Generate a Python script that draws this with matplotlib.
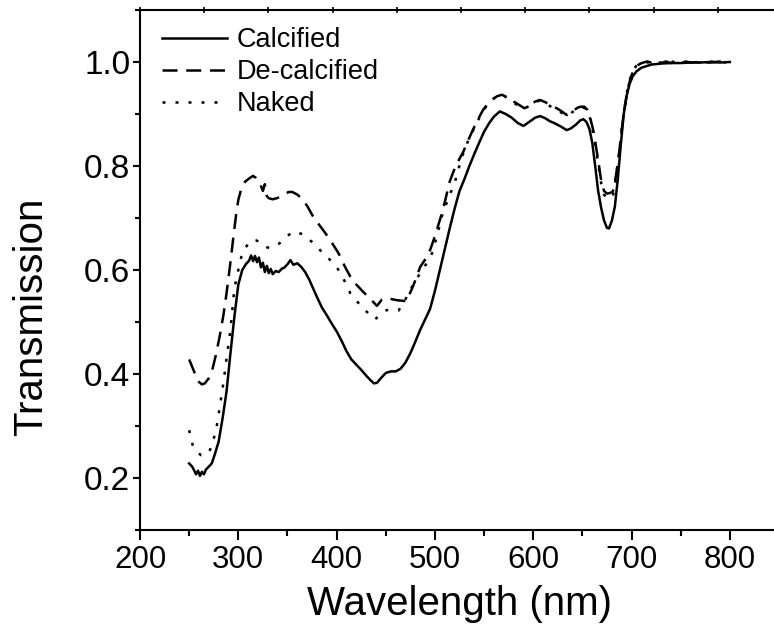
import numpy as np
import matplotlib
matplotlib.use('Agg')
import matplotlib.pyplot as plt
from matplotlib import font_manager

##### Datos #####
wl_calc = [250, 253, 255, 257, 259, 261, 263, 265, 267, 270, 273, 276, 280, 284, 288,
           292, 296, 300, 304, 308, 311, 313, 315, 317, 319, 321, 323, 325, 327, 329,
           331, 333, 335, 338, 341, 344, 347, 350, 353, 356, 360, 364, 368, 372, 376,
           380, 385, 390, 395, 400, 405, 410, 415, 420, 425, 430, 435, 438, 441, 445,
           450, 455, 460, 465, 470, 475, 480, 485, 490, 495, 500, 505, 510, 515, 520,
           525, 530, 535, 540, 545, 550, 555, 560, 566, 572, 578, 584, 590, 596, 602,
           607, 612, 617, 622, 628, 634, 638, 643, 648, 651, 654, 657, 660, 663, 666,
           669, 672, 675, 677, 680, 683, 686, 689, 692, 695, 698, 701, 705, 710, 715,
           720, 730, 740, 750, 760, 770, 780, 790, 800]
t_calc = [0.228, 0.222, 0.215, 0.207, 0.214, 0.204, 0.212, 0.207, 0.216, 0.222, 0.228,
          0.245, 0.270, 0.315, 0.366, 0.440, 0.510, 0.572, 0.600, 0.612, 0.618, 0.628,
          0.617, 0.627, 0.615, 0.624, 0.605, 0.614, 0.596, 0.608, 0.594, 0.602, 0.592,
          0.598, 0.596, 0.602, 0.605, 0.611, 0.619, 0.610, 0.613, 0.606, 0.596, 0.582,
          0.565, 0.548, 0.528, 0.513, 0.497, 0.482, 0.464, 0.444, 0.428, 0.418, 0.408,
          0.397, 0.387, 0.382, 0.383, 0.392, 0.402, 0.405, 0.405, 0.410, 0.422, 0.440,
          0.462, 0.485, 0.505, 0.525, 0.560, 0.600, 0.640, 0.680, 0.718, 0.752, 0.775,
          0.800, 0.823, 0.845, 0.866, 0.882, 0.895, 0.905, 0.900, 0.893, 0.883, 0.877,
          0.885, 0.893, 0.896, 0.892, 0.886, 0.882, 0.876, 0.869, 0.872, 0.879, 0.888,
          0.890, 0.885, 0.872, 0.845, 0.800, 0.752, 0.720, 0.695, 0.681, 0.680, 0.695,
          0.722, 0.775, 0.840, 0.900, 0.935, 0.958, 0.972, 0.982, 0.989, 0.992, 0.995,
          0.997, 0.998, 0.998, 0.999, 0.999, 1.000, 0.999, 1.000]

wl_decalc = [250, 255, 259, 263, 266, 270, 273, 277, 281, 285, 288, 292, 295, 298, 300,
             303, 307, 311, 315, 318, 322, 325, 327, 329, 331, 335, 339, 343, 347, 351,
             355, 360, 366, 371, 376, 383, 390, 396, 402, 408, 414, 420, 427, 434, 441,
             446, 451, 461, 471, 478, 485, 490, 495, 500, 508, 515, 521, 529, 537, 543,
             549, 554, 558, 563, 568, 574, 580, 586, 591, 597, 602, 607, 613, 618, 624,
             629, 634, 640, 645, 648, 652, 655, 658, 661, 664, 666, 669, 672, 675, 678,
             681, 684, 687, 690, 692, 695, 697, 700, 704, 708, 712, 716, 720, 725, 730,
             735, 740, 745, 750, 755, 760, 770, 780, 790, 800]
t_decalc = [0.428, 0.405, 0.386, 0.380, 0.382, 0.392, 0.404, 0.435, 0.472, 0.515, 0.555,
            0.615, 0.664, 0.710, 0.735, 0.756, 0.770, 0.776, 0.781, 0.777, 0.767, 0.752,
            0.765, 0.742, 0.738, 0.736, 0.738, 0.741, 0.745, 0.750, 0.750, 0.745, 0.735,
            0.720, 0.703, 0.685, 0.667, 0.650, 0.632, 0.608, 0.587, 0.572, 0.558, 0.545,
            0.531, 0.543, 0.546, 0.542, 0.540, 0.570, 0.606, 0.620, 0.638, 0.665, 0.715,
            0.770, 0.800, 0.828, 0.863, 0.887, 0.908, 0.920, 0.927, 0.934, 0.937, 0.932,
            0.924, 0.917, 0.911, 0.918, 0.924, 0.927, 0.922, 0.916, 0.911, 0.905, 0.898,
            0.905, 0.912, 0.914, 0.914, 0.908, 0.892, 0.869, 0.835, 0.812, 0.772, 0.752,
            0.747, 0.748, 0.751, 0.780, 0.820, 0.870, 0.900, 0.937, 0.955, 0.975, 0.990,
            0.996, 0.999, 1.001, 0.999, 1.002, 0.998, 1.001, 0.998, 1.000, 0.997, 1.001,
            0.999, 1.000, 0.999, 1.001, 1.000]

wl_naked = [250, 254, 258, 262, 266, 270, 274, 278, 281, 285, 288, 292, 296, 300, 303,
            307, 311, 314, 318, 322, 327, 332, 337, 341, 346, 351, 356, 361, 366, 371,
            375, 381, 386, 393, 400, 407, 414, 419, 424, 431, 439, 445, 451, 457, 463,
            469, 475, 481, 487, 492, 497, 502, 507, 514, 520, 527, 533, 540, 547, 553,
            558, 564, 568, 574, 580, 586, 591, 597, 602, 607, 613, 618, 624, 630, 635,
            640, 645, 650, 654, 657, 660, 663, 666, 669, 672, 675, 678, 681, 684, 687,
            690, 692, 695, 698, 701, 705, 710, 715, 720, 730, 740, 750, 760, 770, 780,
            790, 800]
t_naked = [0.292, 0.260, 0.250, 0.244, 0.245, 0.248, 0.268, 0.299, 0.335, 0.385, 0.430,
           0.485, 0.565, 0.600, 0.625, 0.642, 0.653, 0.658, 0.657, 0.654, 0.645, 0.642,
           0.646, 0.650, 0.658, 0.667, 0.674, 0.672, 0.668, 0.660, 0.654, 0.643, 0.632,
           0.620, 0.606, 0.583, 0.555, 0.543, 0.533, 0.519, 0.505, 0.515, 0.523, 0.522,
           0.522, 0.540, 0.562, 0.582, 0.600, 0.614, 0.632, 0.665, 0.703, 0.740, 0.767,
           0.815, 0.845, 0.873, 0.900, 0.917, 0.928, 0.935, 0.938, 0.930, 0.922, 0.914,
           0.910, 0.917, 0.923, 0.926, 0.920, 0.914, 0.908, 0.901, 0.897, 0.904, 0.910,
           0.913, 0.910, 0.898, 0.872, 0.842, 0.805, 0.768, 0.745, 0.738, 0.737, 0.742,
           0.775, 0.820, 0.870, 0.900, 0.940, 0.965, 0.982, 0.993, 0.998, 1.000, 0.997,
           0.999, 1.001, 0.998, 1.000, 0.999, 1.001, 0.999, 1.000]

labels = ['Calcified', 'De-calcified', 'Naked']
xticks = [200, 300, 400, 500, 600, 700, 800]
yticks = [0.2, 0.4, 0.6, 0.8, 1.0]

##### Fuentes #####
nombres = {f.name for f in font_manager.fontManager.ttflist}
if 'Liberation Sans Narrow' in nombres:
    fam_axis = ['Liberation Sans Narrow', 'Liberation Sans']
    sz_lab, sz_xt = 34, 24
else:
    fam_axis = ['Liberation Sans', 'DejaVu Sans']
    sz_lab, sz_xt = 29, 22.5
plt.rcParams['font.family'] = ['Liberation Sans', 'DejaVu Sans']

##### Grafica #####
fig = plt.figure(figsize=(7.74, 6.44), dpi=100)
ax = fig.add_axes([140/774, 114/644, 642/774, 520/644])

ax.plot(wl_calc, t_calc, color='k', lw=1.8, ls='-', label=labels[0])
ax.plot(wl_decalc, t_decalc, color='k', lw=1.8, ls=(0, (6, 3.5)), label=labels[1])
ax.plot(wl_naked, t_naked, color='k', lw=1.8, ls=(0, (1.2, 4)), label=labels[2])

ax.set_xlim(200, 853)
ax.set_ylim(0.1, 1.1)
ax.set_xticks(xticks)
ax.set_xticks(np.arange(250, 851, 100), minor=True)
ax.set_yticks(yticks)
ax.set_yticks(np.arange(0.1, 1.11, 0.2), minor=True)
ax.set_yticklabels(['%.1f' % v for v in yticks], fontsize=24)
ax.set_xticklabels([str(v) for v in xticks], fontsize=sz_xt, family=fam_axis)

ax.spines['right'].set_visible(False)
for s in ['left', 'bottom', 'top']:
    ax.spines[s].set_linewidth(1.5)
ax.tick_params(axis='x', which='major', direction='out', length=7.5, width=1.5, pad=3, top=False)
ax.tick_params(axis='x', which='minor', direction='out', length=4, width=1.5, top=False)
ax.tick_params(axis='y', which='major', direction='out', length=5, width=1.5, pad=2)
ax.tick_params(axis='y', which='minor', direction='out', length=3.5, width=1.5)

# eje superior con sus propias marcas
top = ax.secondary_xaxis('top')
top.set_xticks(np.linspace(200, 853, 11))
top.set_xticklabels([])
top.tick_params(direction='inout', length=4, width=1.2)
top.spines['top'].set_visible(False)

ax.set_xlabel('Wavelength (nm)', fontsize=sz_lab, family=fam_axis)
ax.set_ylabel('Transmission', fontsize=sz_lab, family=fam_axis)
ax.xaxis.set_label_coords(0.498, -0.105)
ax.yaxis.set_label_coords(-0.14, 0.41)

ax.legend(loc='upper left', bbox_to_anchor=(0.034, 0.967), frameon=False, fontsize=19.5,
          handlelength=2.4, handletextpad=0.35, labelspacing=0.22, borderpad=0,
          borderaxespad=0)

fig.savefig('out.png', dpi=100)
